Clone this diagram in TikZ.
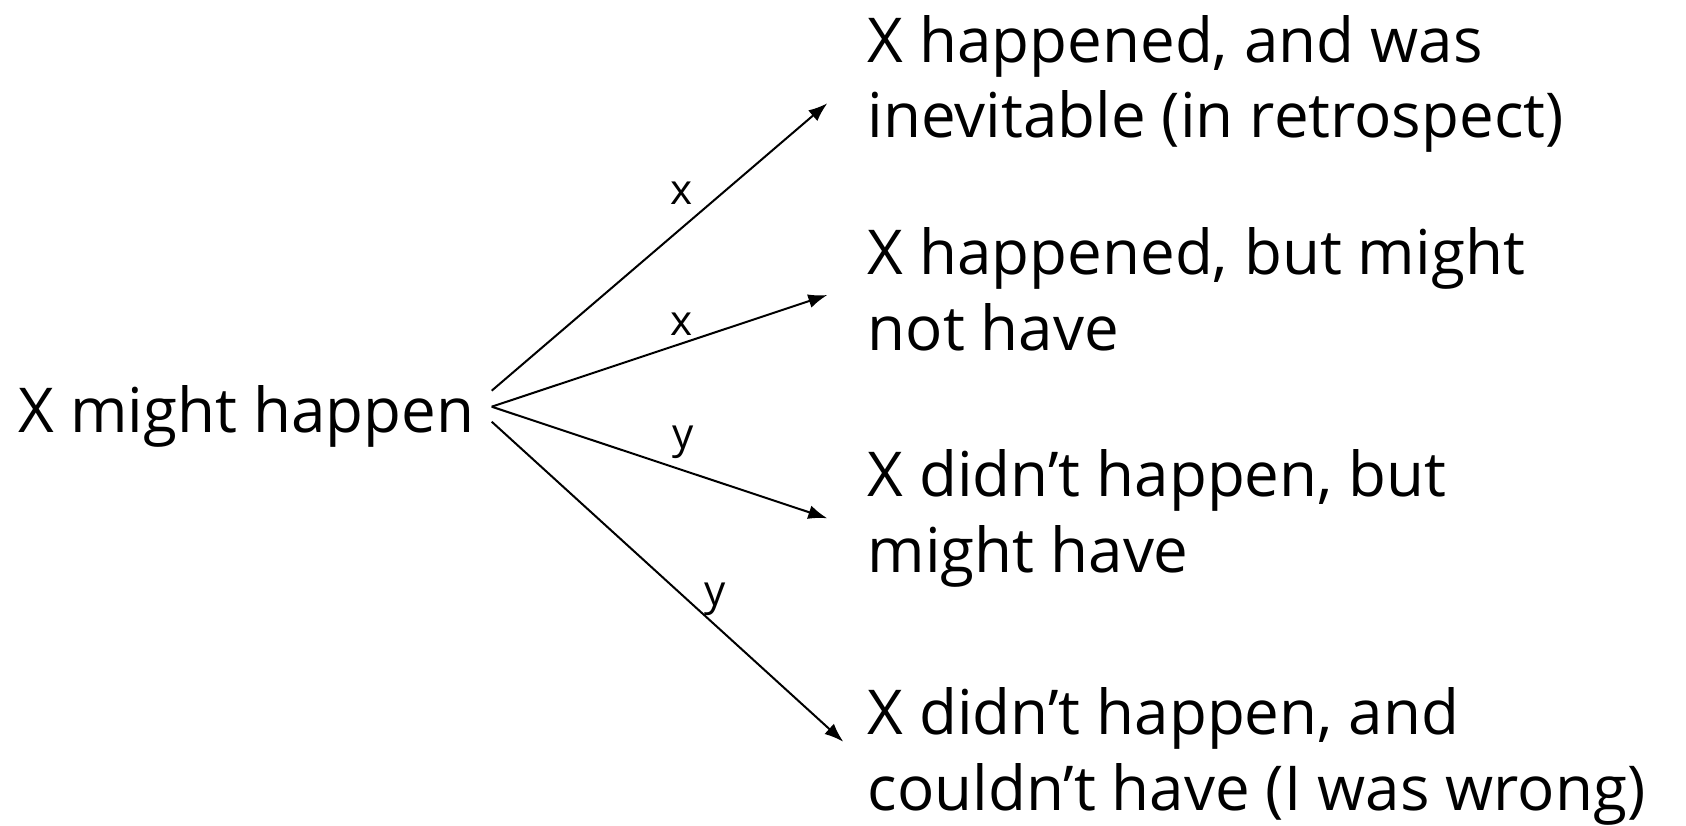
\documentclass[tikz,border=0pt]{standalone}
\usepackage{fontspec}
\setmainfont{Open Sans}
\usetikzlibrary{arrows.meta}
\tikzset{
  branch/.style={line width=0.020cm, -{Latex[length=0.19cm,width=0.14cm]}},
  outcome/.style={anchor=base west, inner sep=0pt, align=left, font=\fontsize{17.6}{21.6}\selectfont},
  choice/.style={anchor=base, inner sep=0pt, font=\fontsize{12}{14}\selectfont},
}
\begin{document}
\begin{tikzpicture}
                    \useasboundingbox (0,0) rectangle (16.860000,8.250000);

                    % Marking the starting statement
                    \node [outcome] (start) at (0.180000,3.930000) {X might happen};%

                    % Points where the branches leave it
                    \coordinate (forkhi) at (4.917000,4.343000);%
                    \coordinate (forkmid) at (4.917000,4.183000);%
                    \coordinate (forklo) at (4.917000,4.033000);%

                    % Marking the four outcomes (base = last line)
                    \node [outcome] (out1) at (8.670000,6.870000) {X happened, and was\\inevitable (in retrospect)};%
                    \node [outcome] (out2) at (8.670000,4.750000) {X happened, but might\\not have};%
                    \node [outcome] (out3) at (8.670000,2.530000) {X didn’t happen, but\\might have};%
                    \node [outcome] (out4) at (8.670000,0.150000) {X didn’t happen, and\\couldn’t have (I was wrong)};%

                    % Arrow tips in front of the outcomes
                    \coordinate (tip1) at (8.273000,7.217000);%
                    \coordinate (tip2) at (8.273000,5.300000);%
                    \coordinate (tip3) at (8.273000,3.067000);%
                    \coordinate (tip4) at (8.433000,0.833000);%

                    % Drawing the branches
                    \draw [branch] (forkhi) -- (tip1);%
                    \draw [branch] (forkmid) -- (tip2);%
                    \draw [branch] (forkmid) -- (tip3);%
                    \draw [branch] (forklo) -- (tip4);%

                    % Marking the branch labels
                    \node [choice] (lab1) at (6.817000,6.200000) {x};%
                    \node [choice] (lab2) at (6.817000,4.900000) {x};%
                    \node [choice] (lab3) at (6.830000,3.770000) {y};%
                    \node [choice] (lab4) at (7.150000,2.200000) {y};%
\end{tikzpicture}
\end{document}
